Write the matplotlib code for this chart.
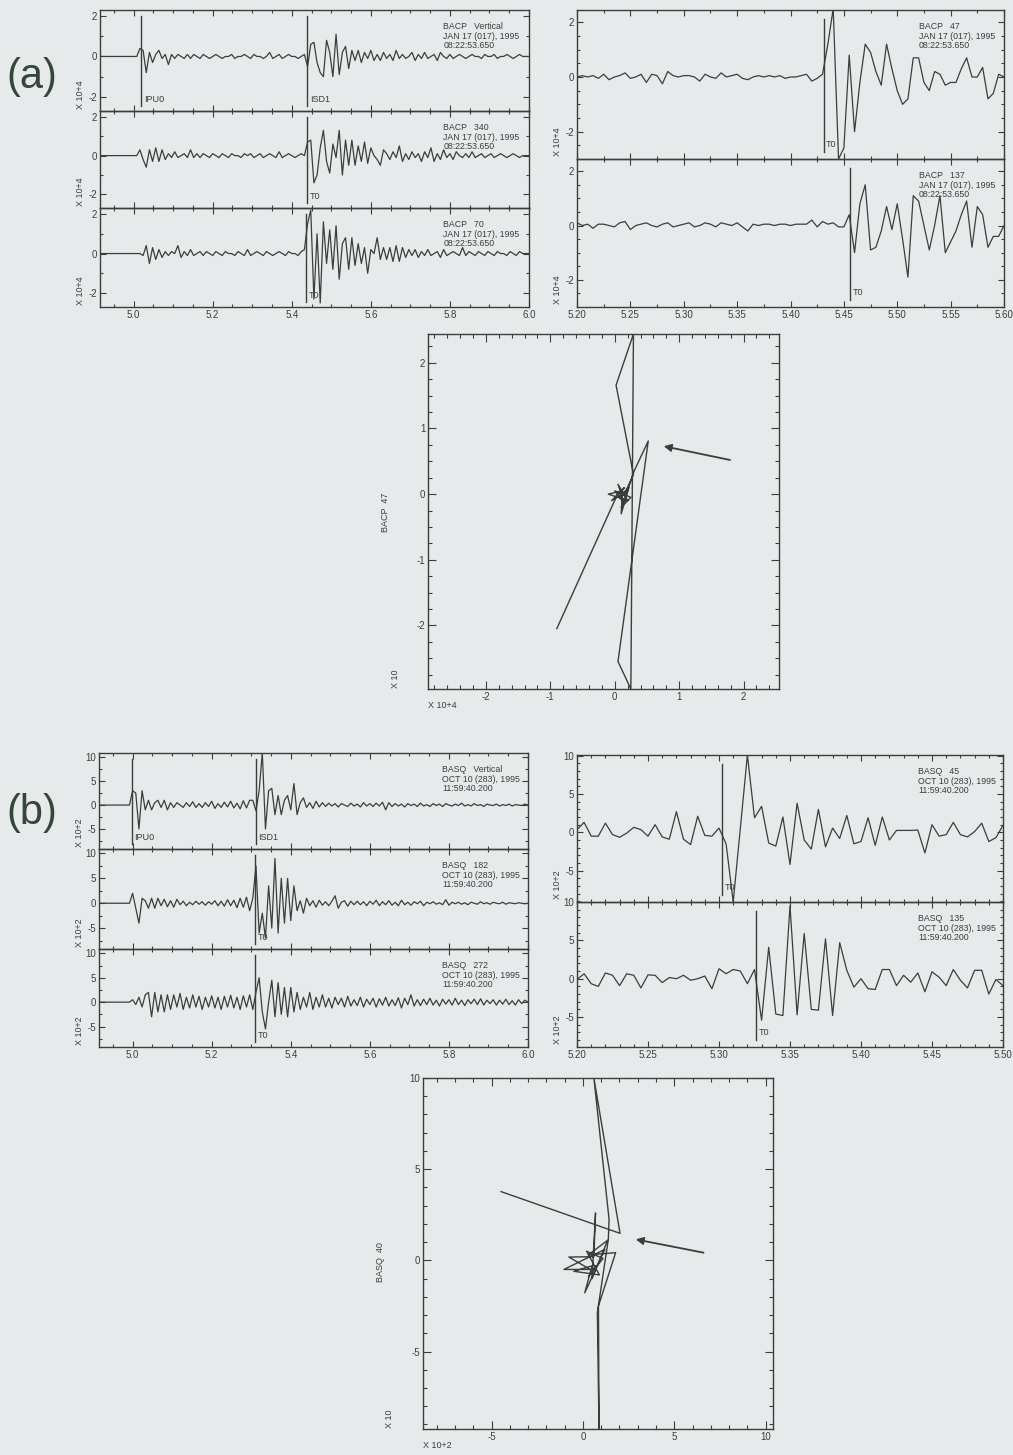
import numpy as np
import matplotlib
matplotlib.use("Agg")
import matplotlib.pyplot as plt
from matplotlib.ticker import MultipleLocator, FormatStrFormatter

OUT_PATH = "out.png"
W_PX, H_PX = 1013, 1455
DPI = 100

PAPER = "#e7eaeb"
INK = "#3b3e3b"
LETTER_INK = "#34473a"

plt.rcParams["font.family"] = ["Liberation Sans Narrow", "Liberation Sans", "DejaVu Sans"]
plt.rcParams["axes.unicode_minus"] = False

# (a) BACP, JAN 17 1995 -- wide window, one sample every 0.008 s, values in tenths of 10^4
A_STATION = "BACP"
A_DATE = "JAN 17 (017), 1995"
A_CLOCK = "08:22:53.650"
A_WIDE_T0 = 4.912
A_WIDE_DT = 0.008
A_WIDE_NAMES = ["Vertical", "340", "70"]
A_VERTICAL = [
    0, 0, 0, 0, 0, 0, 0, 0, 0, 0, 0,
    0, 0, 4, 3, -8, 2, -3, 1, 3, -1,
    1, -4, 1, -1, 1, 0, -1, 1, -1, 1,
    0, -1, 1, 0, -1, 0, 1, 0, -1, 0,
    0, 1, -1, 0, 0, 1, 0, -1, 1, 0,
    0, -1, 0, 2, -1, 0, 1, -1, 0, 1,
    0, 0, -1, 0, 1, -5, 6, 7, -3, -8,
    -10, 8, 2, -10, 11, -9, 2, 5, -6, 3,
    -2, 3, -3, 2, -1, 3, -2, 1, -2, 2,
    -1, 1, -2, 3, -1, 1, -1, 0, 2, -2,
    1, -1, 2, -1, 0, 1, -2, 2, 0, -1,
    1, -1, 0, 1, 0, -1, 0, 1, 0, 0,
    -1, 1, 0, 0, 1, -1, 0, 0, 1, 0,
    -1, 0, 1, 0, 0, 0,
]
A_340 = [
    0, 0, 0, 0, 0, 0, 0, 0, 0, 0, 0,
    0, 0, 3, -2, -6, 3, -3, 4, -3, 3,
    -2, 1, -1, 2, -1, 0, 1, -1, 3, -1,
    1, -1, 1, 0, -1, 1, 0, -1, 1, 0,
    -1, 1, 0, 0, -1, 1, 0, 1, -1, 0,
    1, -1, 0, 1, 0, -1, 2, -1, 0, 1,
    0, -1, 0, 1, 0, 7, 8, -14, -10, 4,
    13, -3, -9, 6, -1, 13, -10, 8, -5, 8,
    -5, 5, -3, 7, -4, 4, 0, -2, -5, 3,
    1, -2, 2, -1, 5, -3, 1, -2, 2, -1,
    1, -3, 2, -1, 4, -3, 1, -2, 3, -1,
    1, -2, 2, 0, -1, 1, -1, 2, -1, 0,
    1, -1, 0, 1, -1, 0, 1, 0, -1, 0,
    1, 0, -1, 0, 0, 0,
]
A_70 = [
    0, 0, 0, 0, 0, 0, 0, 0, 0, 0, 0,
    0, 0, 0, -1, 4, -5, 3, -3, 2, -2,
    1, -1, 1, 0, 4, -2, 1, -1, 2, -1,
    0, 1, -1, 1, 0, -1, 1, 0, -1, 1,
    0, 0, -1, 1, 0, -1, 2, -1, 0, 1,
    0, -1, 1, 0, -1, 0, 1, 0, -1, 1,
    0, 0, -1, 1, 2, 15, 22, -23, 10, -25,
    16, -5, 12, -8, 14, -13, 5, 8, -8, 8,
    -6, 5, -5, 3, -10, 2, 0, 8, -3, 3,
    -3, 3, -4, 4, -4, 3, -2, 2, -1, 2,
    -2, 1, -1, 2, -1, 0, 1, -2, 2, -1,
    0, 1, 0, -1, 3, -1, 1, 0, -1, 1,
    0, -1, 1, 0, -1, 1, 0, 0, -1, 1,
    0, -1, 1, 0, 0, 0,
]
A_WIDE_PICKS = [[(5.019, "IPU0"), (5.439, "ISD1")], [(5.439, "T0")], [(5.437, "T0")]]

# (a) close-up of the two rotated horizontals, one sample every 0.005 s, x 10^4
A_ZOOM_T0 = 5.20
A_ZOOM_DT = 0.005
A_ZOOM_NAMES = ["47", "137"]
A_47 = [
    0, 0.05, 0, 0.05, -0.05, 0.1, -0.1, 0, 0.05, 0.15,
    -0.05, 0, 0.1, -0.2, 0.1, 0.05, -0.25, 0.2, 0.05, 0,
    0.05, 0.05, 0, -0.15, 0.1, 0, -0.05, 0.15, 0, 0.05,
    0.1, -0.05, -0.1, 0, 0.05, 0, 0.05, 0, 0.05, -0.05,
    0, 0, 0.05, 0.1, -0.15, -0.05, 0.1, 1.2, 2.5, -3.0,
    -2.6, 0.8, -2.0, -0.2, 1.2, 0.9, 0.2, -0.3, 1.2, 0.3,
    -0.5, -1.0, -0.8, 0.7, 0.7, -0.2, -0.5, 0.2, 0.1, -0.3,
    -0.2, -0.2, 0.3, 0.7, 0, 0, 0.35, -0.8, -0.6, 0.1,
    0,
]
A_137 = [
    0.1, 0, 0.05, -0.1, 0.05, 0.05, 0, -0.05, 0.1, 0.15,
    -0.15, 0, 0.05, 0.1, 0, -0.05, 0.05, 0.1, -0.05, 0,
    0.05, 0.1, -0.05, 0, 0.1, 0.05, -0.05, 0.1, 0.05, 0,
    0.1, -0.05, -0.2, 0.05, 0, 0.05, 0.05, 0, 0.05, 0.05,
    0, 0.05, 0.05, 0.05, 0.2, -0.05, 0.15, 0.05, 0.1, -0.05,
    -0.05, 0.4, -1.0, 0.8, 1.5, -0.9, -0.8, -0.2, 0.7, -0.15,
    0.8, -0.5, -1.9, 1.1, 0.9, 0, -0.9, 0, 1.1, -1.0,
    -0.6, -0.2, 0.4, 0.9, -0.8, 0.7, 0.4, -0.8, -0.4, -0.4,
    0,
]
A_ZOOM_PICKS = [5.431, 5.456]

# (a) particle motion, x 10^4 (horizontal) against BACP 47
A_PM_X = [-0.9, 0.02, 0.15, -0.05, 0.2, 0.1, 0.25, 0.0, 0.15, 0.05, 0.2, -0.1, 0.12,
          0.1, 0.22, 0.05, 0.18, 0.3, 0.52, 0.05, 0.25, 0.29, 0.02, 0.29, 0.15]
A_PM_Y = [-2.05, -0.05, 0.1, -0.1, 0.05, -0.2, -0.05, 0.05, -0.15, 0.15, -0.1, 0.0, 0.05,
          -0.3, 0.1, -0.05, 0.0, 0.35, 0.81, -2.55, -2.97, 2.44, 1.66, 0.3, 0.0]
A_PM_ARROW = [(1.79, 0.52), (0.76, 0.73)]

# (b) BASQ, OCT 10 1995 -- wide window, one sample every 0.008 s, x 10^2
B_STATION = "BASQ"
B_DATE = "OCT 10 (283), 1995"
B_CLOCK = "11:59:40.200"
B_WIDE_T0 = 4.912
B_WIDE_DT = 0.008
B_WIDE_NAMES = ["Vertical", "182", "272"]
B_VERTICAL = [
    0, 0, 0, 0, 0, 0, 0, 0, 0, 0, 0,
    3, 2.5, -5, 3, -1, 1, -1, 0.5, 1, -0.5,
    1, -1, 0.5, -0.5, 0.5, 0, -0.5, 0.5, -0.3, 0.7,
    -0.5, 0.3, -0.5, 0.5, -0.3, 0.8, -0.7, 0.3, -0.5, 0.6,
    -0.4, 0.8, -0.6, 0.4, -0.8, 0.9, -0.6, 1.0, 1.0, -1.2,
    3, 11, -5, 3, 3.5, -2, 2, -2, 1, 2,
    -1, 4.5, -2, 0.5, 1.5, -0.5, 0.5, -0.7, 0.8, -0.4,
    0.5, -0.3, 0.4, -0.2, 0.3, -0.4, 0.3, 0, -0.3, 0.4,
    -0.2, 0.2, -0.4, 0.5, -0.2, 0.3, -0.3, 0.4, -0.2, 0.6,
    -1.0, 0.5, -0.3, 0.3, -0.2, 0.2, -0.4, 0.3, -0.1, 0.2,
    -0.3, 0.4, -0.2, 0.1, -0.3, 0.3, -0.1, 0.2, -0.3, 0.3,
    0, -0.2, 0.2, -0.1, 0.4, -0.2, 0.1, -0.2, 0.3, -0.1,
    0.1, -0.3, 0.2, 0, -0.1, 0.2, -0.2, 0.1, -0.1, 0.2,
    -0.2, 0.1, 0, -0.1, 0.2, 0,
]
B_182 = [
    0, 0, 0, 0, 0, 0, 0, 0, 0, 0, 0,
    2, -1, -4, 1, 0.5, -1, 1, -1, 1, -0.5,
    0.8, -0.7, 0.5, -0.8, 0.8, -0.3, 0.4, -0.5, 0.2, -0.3,
    0.4, -0.2, 0.3, -0.4, 0.3, -0.2, 0.5, -0.5, 0.4, -0.6,
    0.7, -0.5, 0.6, -0.9, 1.0, -0.8, 1.2, -1.5, 1.0, 7.5,
    -6, -2, -7, 3.5, -5, 9, -6, 5, -4, 5,
    -3.5, 3.5, -1.5, 0.5, -2, 1, -0.5, 0.5, -0.8, 0.6,
    -0.4, 0.3, -0.5, 0.4, 1.5, -1.0, 0.2, 0.5, -0.6, 0.4,
    -0.3, 0.4, -0.3, 0.3, -0.5, 0.4, -0.2, 0.6, -0.5, 0.3,
    -0.3, 0.5, -0.4, 0.2, -0.5, 0.6, -0.3, 0.2, -0.4, 0.3,
    -0.1, 0.4, -0.5, 0.2, -0.1, 0.3, -0.2, 0.1, -0.3, 0.7,
    -0.4, 0.2, -0.1, 0.2, -0.2, 0.1, -0.3, 0.2, 0, -0.2,
    0.3, -0.1, 0.1, -0.2, 0.2, 0, -0.1, 0.2, -0.2, 0.1,
    0, -0.1, 0.1, 0, -0.1, 0,
]
B_272 = [
    0, 0, 0, 0, 0, 0, 0, 0, 0, 0, 0,
    0.5, -0.5, 1, -1, 1.5, 2, -3, 2, -2, 1.5,
    -2, 1.5, -1.5, 1.5, -1, 1.8, -1.5, 1, -1.2, 1.5,
    -1, 1.2, -1.5, 1, -1, 1.3, -1.2, 1, -1.5, 1.2,
    -1, 1.4, -1.2, 1, -1.5, 1.3, -1, 1.5, -1.5, 2,
    5, -2, -5.5, 0, 4.5, -3, 4, -2.5, 3, -3,
    3, -2, 2, -1.5, 1, -1, 2, -1.5, 1, -1,
    1.5, -1, 0.8, -1.2, 1, -0.5, 0.8, -1, 1.2, -0.8,
    0.5, -0.7, 1, -1, 0.6, -0.5, 0.8, -1, 0.7, -0.6,
    1, -0.8, 0.5, -0.7, 0.9, -1.2, 0.8, -0.5, 1.5, -0.8,
    0.5, -0.7, 0.6, -0.5, 0.8, -0.6, 0.4, -0.8, 0.6, -0.4,
    0.5, -0.6, 0.8, -0.5, 0.4, -0.7, 0.5, -0.3, 0.6, -0.5,
    0.7, -0.6, 0.4, -0.3, 0.5, -0.6, 0.4, -0.4, 0.6, -0.5,
    0.3, -0.6, 0.5, -0.3, 0.4, 0,
]
B_WIDE_PICKS = [[(4.998, "IPU0"), (5.311, "ISD1")], [(5.310, "T0")], [(5.310, "T0")]]

# (b) close-up, one sample every 0.005 s, x 10^2
B_ZOOM_T0 = 5.20
B_ZOOM_DT = 0.005
B_ZOOM_NAMES = ["45", "135"]
B_45 = [
    0.35, 1.3, -0.5, -0.5, 1.2, -0.3, -0.65, -0.1, 0.65, 0.35,
    -0.5, 1.0, -0.6, -0.9, 2.7, -0.9, -1.6, 2.1, -0.4, -0.5,
    0.55, -1.5, -9.1, 0.5, 10.1, 1.9, 3.4, -1.4, -1.8, 2.0,
    -4.2, 3.8, -1.0, -2.2, 3.0, -1.9, 0.55, -0.8, 2.2, -1.5,
    -1.2, 1.9, -1.7, 2.0, -1.0, 0.25, 0.25, 0.25, 0.3, -2.7,
    1.0, -0.5, -0.3, 1.3, -0.3, -0.6, 0.1, 1.2, -1.2, -0.7,
    0.9,
]
B_135 = [
    -0.1, 0.65, -0.65, -1.0, 0.75, 0.45, -0.9, 0.65, 0.45, -1.2,
    0.5, 0.45, -0.5, 0.15, 0, 0.45, -0.2, 0, 0.35, -1.3,
    1.3, 0.65, 1.2, 1.0, -0.65, 1.2, -5.4, 4.1, -4.6, -4.8,
    9.5, -4.7, 5.9, -4.0, -4.1, 5.2, -4.8, 4.7, 1.1, -1.1,
    0, -1.3, -1.4, 1.2, 1.2, -0.9, 0.45, -0.45, 0.75, -1.7,
    0.9, 0.2, -0.9, 1.2, -0.2, -1.2, 1.1, 1.1, -2.0, -0.1,
    -0.9,
]
B_ZOOM_PICKS = [5.302, 5.326]

# (b) particle motion, x 10^2 against BASQ 40
B_PM_X = [-4.48, 2.03, 0.6, 1.43, 1.39, 0.79, 0.88, 0.85, 1.79, 0.3, 1.35, 0.5, 0.69,
          0.6, -0.77, 0.4, -1.04, 1.2, 0.1, 0.5, -0.5, 0.9, 0.2, 1.1, 0.3, 0.7]
B_PM_Y = [3.77, 1.48, 10.0, 2.25, 1.15, -2.87, -9.25, -2.5, 0.42, 0.3, 1.1, -1.0, 2.6,
          0.2, 0.18, -0.5, -0.5, 0.6, -1.78, -0.3, -0.6, -0.8, 0.5, 0.1, -0.9, -0.3]
B_PM_ARROW = [(6.6, 0.42), (2.89, 1.15)]


def px_rect(x0, x1, y0, y1):
    return [x0 / W_PX, 1 - y1 / H_PX, (x1 - x0) / W_PX, (y1 - y0) / H_PX]


def fig_xy(x, y):
    return x / W_PX, 1 - y / H_PX


def style_axes(ax, xmaj, xmin, ymaj, ymin, xfmt, yfmt, major_len=4, minor_len=2):
    ax.set_facecolor("none")
    for spine in ax.spines.values():
        spine.set_color(INK)
        spine.set_linewidth(1.0)
    ax.xaxis.set_major_locator(MultipleLocator(xmaj))
    ax.xaxis.set_minor_locator(MultipleLocator(xmin))
    ax.yaxis.set_major_locator(MultipleLocator(ymaj))
    ax.yaxis.set_minor_locator(MultipleLocator(ymin))
    ax.xaxis.set_major_formatter(FormatStrFormatter(xfmt))
    ax.yaxis.set_major_formatter(FormatStrFormatter(yfmt))
    ax.tick_params(which="both", direction="in", top=True, right=True,
                   colors=INK, width=0.8, labelsize=7, pad=2)
    ax.tick_params(which="major", length=major_len)
    ax.tick_params(which="minor", length=minor_len)


# ONE SEISMOGRAM TRACE
def draw_trace(fig, box, t0, dt, values, scale, xlim, ylim, yticks, xticks, xfmt,
               header, picks, power, show_x):
    ax = fig.add_axes(px_rect(*box))
    v = np.array(values, dtype=float) * scale
    t = t0 + dt * np.arange(len(v))
    ax.plot(t, v, color=INK, lw=0.9)
    span = xlim[1] - xlim[0]
    for tp, name in picks:
        ax.axvline(tp, ymin=0.05, ymax=0.94, color=INK, lw=1.0)
        ax.text(tp + 0.006 * span, 0.07, name, transform=ax.get_xaxis_transform(),
                fontsize=6.5, color=INK, ha="left", va="bottom")
    ax.set_xlim(*xlim)
    ax.set_ylim(*ylim)
    style_axes(ax, xticks[0], xticks[1], yticks[0], yticks[1], xfmt, "%d")
    ax.tick_params(labelbottom=show_x)
    h = box[3] - box[2]
    w = box[1] - box[0]
    ax.text(0.80, 1 - 12 / h, header, transform=ax.transAxes, fontsize=6.3,
            color=INK, ha="left", va="top", linespacing=1.1)
    ax.text(-20 / w, 0.02, "X 10+%d" % power, transform=ax.transAxes, rotation=90,
            fontsize=6.5, color=INK, ha="center", va="bottom")
    return ax


def header_text(station, name, date, clock):
    return "%s   %s\n%s\n%s" % (station, name, date, clock)


# PARTICLE MOTION PANEL
def draw_particle(fig, box, xs, ys, arrow, xlim, ylim, xticks, yticks, name, power, label_y):
    ax = fig.add_axes(px_rect(*box))
    ax.plot(xs, ys, color=INK, lw=1.0)
    ax.annotate("", xy=arrow[1], xytext=arrow[0],
                arrowprops=dict(arrowstyle="-|>", color=INK, lw=1.3,
                                mutation_scale=11, shrinkA=0, shrinkB=0))
    ax.set_xlim(*xlim)
    ax.set_ylim(*ylim)
    style_axes(ax, xticks[0], xticks[1], yticks[0], yticks[1], "%d", "%d",
               major_len=6, minor_len=3)
    x0, x1, y0, y1 = box
    fig.text(*fig_xy(x0 - 43, label_y), name, rotation=90, fontsize=6.5,
             color=INK, ha="center", va="center")
    fig.text(*fig_xy(x0 - 33, y1 - 10), "X 10", rotation=90, fontsize=6.5,
             color=INK, ha="center", va="center")
    fig.text(*fig_xy(x0, y1 + 16), "X 10+%d" % power, fontsize=6.5,
             color=INK, ha="left", va="center")
    return ax


fig = plt.figure(figsize=(W_PX / DPI, H_PX / DPI), dpi=DPI, facecolor=PAPER)

# ---- panel (a)
a_wide = [A_VERTICAL, A_340, A_70]
a_boxes = [(100, 529, 10, 111), (100, 529, 111, 208), (100, 529, 208, 307)]
for k in range(3):
    draw_trace(fig, a_boxes[k], A_WIDE_T0, A_WIDE_DT, a_wide[k], 0.1,
               (4.915, 6.0), (-2.7, 2.3), (2, 1), (0.2, 0.05), "%.1f",
               header_text(A_STATION, A_WIDE_NAMES[k], A_DATE, A_CLOCK),
               A_WIDE_PICKS[k], 4, k == 2)

a_zoom = [A_47, A_137]
a_zboxes = [(577, 1004, 10, 159), (577, 1004, 159, 307)]
for k in range(2):
    draw_trace(fig, a_zboxes[k], A_ZOOM_T0, A_ZOOM_DT, a_zoom[k], 1.0,
               (5.20, 5.60), (-3.0, 2.45), (2, 0.5), (0.05, 0.025), "%.2f",
               header_text(A_STATION, A_ZOOM_NAMES[k], A_DATE, A_CLOCK),
               [(A_ZOOM_PICKS[k], "T0")], 4, k == 1)

draw_particle(fig, (428, 779, 334, 689), A_PM_X, A_PM_Y, A_PM_ARROW,
              (-2.9, 2.55), (-2.97, 2.44), (1, 0.2), (1, 0.25), "BACP  47", 4, 512)

# ---- panel (b)
b_wide = [B_VERTICAL, B_182, B_272]
b_boxes = [(99, 528, 753, 849), (99, 528, 849, 949), (99, 528, 949, 1047)]
for k in range(3):
    draw_trace(fig, b_boxes[k], B_WIDE_T0, B_WIDE_DT, b_wide[k], 1.0,
               (4.915, 6.0), (-9.2, 10.9), (5, 2.5), (0.2, 0.05), "%.1f",
               header_text(B_STATION, B_WIDE_NAMES[k], B_DATE, B_CLOCK),
               B_WIDE_PICKS[k], 2, k == 2)

b_zoom = [B_45, B_135]
b_zboxes = [(577, 1003, 755, 902), (577, 1003, 902, 1047)]
b_zlims = [(-9.1, 10.1), (-8.9, 10.0)]
for k in range(2):
    draw_trace(fig, b_zboxes[k], B_ZOOM_T0, B_ZOOM_DT, b_zoom[k], 1.0,
               (5.20, 5.50), b_zlims[k], (5, 1), (0.05, 0.01), "%.2f",
               header_text(B_STATION, B_ZOOM_NAMES[k], B_DATE, B_CLOCK),
               [(B_ZOOM_PICKS[k], "T0")], 2, k == 1)

draw_particle(fig, (423, 773, 1078, 1429), B_PM_X, B_PM_Y, B_PM_ARROW,
              (-8.75, 10.4), (-9.25, 10.0), (5, 1), (5, 1), "BASQ  40", 2, 1262)

fig.text(*fig_xy(6, 77), "(a)", fontsize=30, color=LETTER_INK, ha="left", va="center",
         family=["Liberation Sans", "DejaVu Sans"])
fig.text(*fig_xy(6, 813), "(b)", fontsize=30, color=LETTER_INK, ha="left", va="center",
         family=["Liberation Sans", "DejaVu Sans"])

fig.savefig(OUT_PATH, dpi=DPI, facecolor=PAPER)
